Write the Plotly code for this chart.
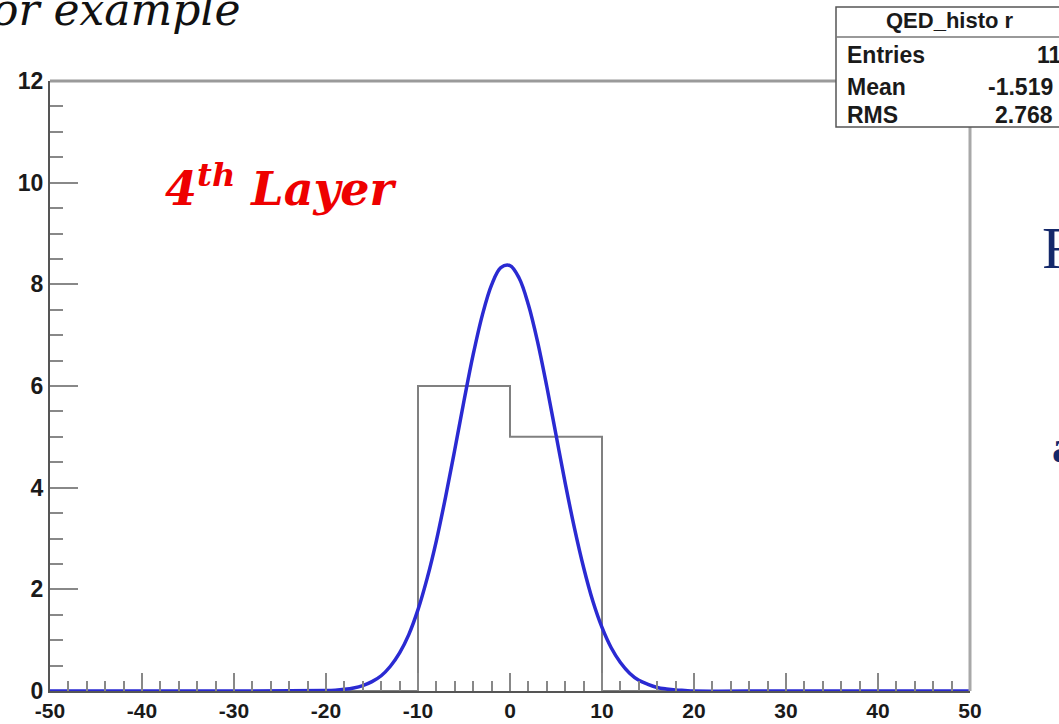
import plotly.graph_objects as go

# ---------------- data ----------------
bin_edges = [-50, -40, -30, -20, -10, 0, 10, 20, 30, 40, 50]
bin_counts = [0, 0, 0, 0, 6, 5, 0, 0, 0, 0]

fit_x = [-50, -30, -20, -19, -18, -17, -16, -15, -14, -13, -12, -11, -10, -9, -8, -7, -6,
         -5, -4, -3, -2, -1, 0, 1, 2, 3, 4, 5, 6, 7, 8, 9, 10, 11, 12, 13, 14, 15, 16,
         17, 18, 19, 20, 30, 50]
fit_y = [0.0, 0.0, 0.01, 0.017, 0.033, 0.06, 0.107, 0.184, 0.30, 0.487, 0.75, 1.11, 1.60,
         2.22, 2.96, 3.82, 4.75, 5.71, 6.62, 7.40, 7.99, 8.33, 8.37, 8.12, 7.60, 6.87,
         5.99, 5.04, 4.09, 3.21, 2.43, 1.77, 1.25, 0.85, 0.56, 0.35, 0.21, 0.13, 0.07,
         0.04, 0.02, 0.01, 0.0, 0.0, 0.0]

x_ticks = [-50, -40, -30, -20, -10, 0, 10, 20, 30, 40, 50]
y_ticks = [0, 2, 4, 6, 8, 10, 12]

stats_title = "QED_histo r"
stats_rows = [("Entries", "11"), ("Mean", "-1.519"), ("RMS", "2.768")]

# ---------------- geometry helpers (pixel -> paper) ----------------
W, H = 1059, 724
L, R, T, B = 50, 970, 81, 691


def px(x):
    return (x - L) / (R - L)


def py(y):
    return (B - y) / (B - T)


fig = go.Figure()

# histogram outline (step)
fig.add_trace(go.Scatter(
    x=bin_edges, y=bin_counts + [0], mode="lines", line_shape="hv",
    line=dict(color="#808080", width=2), hoverinfo="skip", showlegend=False))

# gaussian fit curve
fig.add_trace(go.Scatter(
    x=fit_x, y=fit_y, mode="lines", line_shape="spline",
    line=dict(color="#2a2ad2", width=3.5), hoverinfo="skip", showlegend=False))

xtickfont = dict(family="Liberation Sans", size=21, color="#1a1a1a")
ytickfont = dict(family="Liberation Sans", size=23, color="#1a1a1a")

fig.update_layout(
    width=W, height=H,
    margin=dict(l=L, r=W - R, t=T, b=H - B, pad=0, autoexpand=False),
    paper_bgcolor="white", plot_bgcolor="white",
    showlegend=False,
    xaxis=dict(range=[-50, 50], tickvals=x_ticks, ticktext=[f"<b>{v}</b>" for v in x_ticks],
               ticks="inside", ticklen=18, tickwidth=1.5, tickcolor="#888",
               minor=dict(dtick=2, ticks="inside", ticklen=10, tickwidth=1.5, tickcolor="#888"),
               showgrid=False, zeroline=False, showline=True, linecolor="#555", linewidth=2,
               tickfont=xtickfont, automargin=False),
    yaxis=dict(range=[0, 12], tickvals=y_ticks, ticktext=[f"<b>{v}</b>" for v in y_ticks],
               ticks="inside", ticklen=28, tickwidth=1.5, tickcolor="#888",
               minor=dict(dtick=0.5, ticks="inside", ticklen=13, tickwidth=1.5, tickcolor="#888"),
               showgrid=False, zeroline=False, showline=True, linecolor="#555", linewidth=2,
               tickfont=ytickfont, automargin=False),
)

shapes = []
# frame top and right (ROOT-like gray)
shapes.append(dict(type="line", xref="paper", yref="paper", x0=0, x1=1, y0=1, y1=1,
                   line=dict(color="#9a9a9a", width=3)))
shapes.append(dict(type="line", xref="paper", yref="paper", x0=1, x1=1, y0=0, y1=1,
                   line=dict(color="#a8a8a8", width=3)))
# stats box
shapes.append(dict(type="rect", xref="paper", yref="paper",
                   x0=px(836), x1=px(1070), y0=py(127), y1=py(7),
                   fillcolor="white", line=dict(color="#555", width=1.5), layer="above"))
shapes.append(dict(type="line", xref="paper", yref="paper",
                   x0=px(836), x1=px(1070), y0=py(37), y1=py(37),
                   line=dict(color="#777", width=1.5), layer="above"))
fig.update_layout(shapes=shapes)

ann = []
statfont = dict(family="Liberation Sans", size=23, color="#1a1a1a")
ann.append(dict(xref="paper", yref="paper", x=px(950), y=py(21), text=f"<b>{stats_title}</b>",
                showarrow=False, xanchor="center", yanchor="middle",
                font=dict(family="Liberation Sans", size=22, color="#1a1a1a")))
row_y = [55, 87, 115]
for (k, v), yy in zip(stats_rows, row_y):
    ann.append(dict(xref="paper", yref="paper", x=px(845), y=py(yy), text=f"<b>{k}</b>",
                    showarrow=False, xanchor="left", yanchor="middle", font=statfont))
    ann.append(dict(xref="paper", yref="paper", x=px(1055 if v != "11" else 1064), y=py(yy),
                    text=f"<b>{v}</b>", showarrow=False, xanchor="right", yanchor="middle",
                    font=statfont))

# slide text fragments
ann.append(dict(xref="paper", yref="paper", x=px(-10), y=py(10), text="<i>or example</i>",
                showarrow=False, xanchor="left", yanchor="middle",
                font=dict(family="DejaVu Serif", size=44, color="#111")))
ann.append(dict(xref="paper", yref="paper", x=px(163), y=py(186),
                text="<b><i>4<sup>th</sup> Layer</i></b>",
                showarrow=False, xanchor="left", yanchor="middle",
                font=dict(family="DejaVu Serif", size=46, color="#ee0000")))
ann.append(dict(xref="paper", yref="paper", x=px(1040), y=py(248), text="F",
                showarrow=False, xanchor="left", yanchor="middle",
                font=dict(family="Liberation Serif", size=60, color="#14286a")))
ann.append(dict(xref="paper", yref="paper", x=px(1050), y=py(446), text="<b>a</b>",
                showarrow=False, xanchor="left", yanchor="middle",
                font=dict(family="Liberation Serif", size=46, color="#14286a")))
fig.update_layout(annotations=ann)

fig.write_html("out.html")
